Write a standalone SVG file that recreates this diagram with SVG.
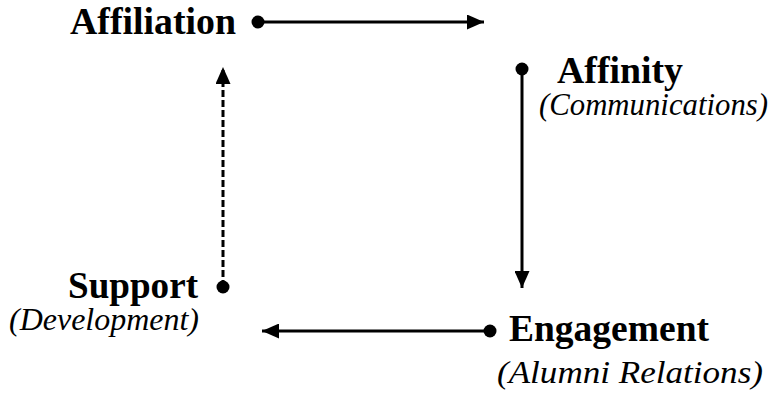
<svg xmlns="http://www.w3.org/2000/svg" width="781" height="393" viewBox="0 0 781 393">
<defs>
<style>
.b{font-family:"Liberation Serif","Times New Roman",serif;font-weight:bold;font-size:37px;fill:#000}
.i{font-family:"Liberation Serif","Times New Roman",serif;font-style:italic;font-size:31px;fill:#000}
.ln{stroke:#000;stroke-width:3;fill:none}
.dot{fill:#000}
</style>
<marker id="ah" viewBox="0 0 17 15" refX="17" refY="7.5" markerWidth="17" markerHeight="15" markerUnits="userSpaceOnUse" orient="auto">
<path d="M0,0 L17,7.5 L0,15 Z" fill="#000"/>
</marker>
</defs>
<rect width="781" height="393" fill="#fff"/>
<g id="connectors">
<line class="ln" x1="258" y1="22" x2="484" y2="22" marker-end="url(#ah)"/>
<line class="ln" x1="522" y1="69" x2="522" y2="288" marker-end="url(#ah)"/>
<line class="ln" x1="490" y1="331" x2="262" y2="331" marker-end="url(#ah)"/>
<line class="ln" x1="223" y1="287" x2="223" y2="67" stroke-dasharray="7,3" marker-end="url(#ah)"/>
</g>
<g id="affiliation">
<text class="b" x="70" y="34" textLength="166" lengthAdjust="spacingAndGlyphs">Affiliation</text>
<circle class="dot" cx="258" cy="22" r="6.5"/>
</g>
<g id="affinity">
<circle class="dot" cx="522" cy="69" r="6.5"/>
<text class="b" x="557" y="83" textLength="126" lengthAdjust="spacingAndGlyphs">Affinity</text>
<text class="i" x="539" y="115" textLength="229" lengthAdjust="spacingAndGlyphs">(Communications)</text>
</g>
<g id="support">
<text class="b" x="68" y="298" textLength="130" lengthAdjust="spacingAndGlyphs">Support</text>
<circle class="dot" cx="223" cy="287" r="6.5"/>
<text class="i" x="9" y="330" textLength="190" lengthAdjust="spacingAndGlyphs">(Development)</text>
</g>
<g id="engagement">
<circle class="dot" cx="490" cy="331" r="6.5"/>
<text class="b" x="509" y="341" textLength="200" lengthAdjust="spacingAndGlyphs">Engagement</text>
<text class="i" x="497" y="383" textLength="266" lengthAdjust="spacingAndGlyphs">(Alumni Relations)</text>
</g>
</svg>
